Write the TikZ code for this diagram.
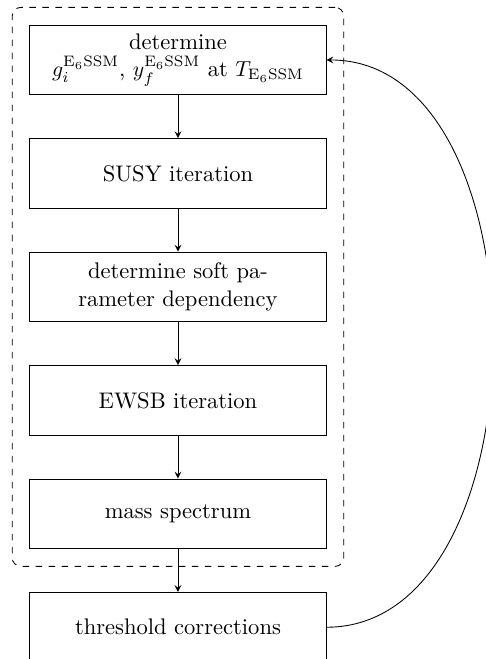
\documentclass[tikz,border=0pt]{standalone}
\usepackage{tikz}
\usepackage{amsmath}
\usetikzlibrary{calc,positioning,arrows,fit}
\tikzset{
	->,
	>=stealth,
	node distance=0.695cm,
	stepbox/.style={draw, rectangle, align=center,
		font=\fontsize{10.4}{12.5}\selectfont,
		minimum width=4.8cm, minimum height=1.13cm},
}

\begin{document}
\begin{tikzpicture}
        \useasboundingbox (-2.885,0.972) rectangle (4.99,-9.71);
        \node[stepbox] (determine) {determine\\
                $g_i^{\mathrm{E_6SSM}}$, $y_f^{\mathrm{E_6SSM}}$ at $T_{\mathrm{E_6SSM}}$};
        \node[stepbox, below=of determine] (susy) {SUSY iteration};
        \node[stepbox, below=of susy] (soft) {determine soft pa-\\rameter dependency};
        \node[stepbox, below=of soft] (ewsb) {EWSB iteration};
        \node[stepbox, below=of ewsb] (spectrum) {mass spectrum};
        \node[stepbox, below=of spectrum] (threshold) {threshold corrections};
        % iteration loop
        \node[draw, dashed, rounded corners, inner sep=0.28cm,
              fit=(determine) (spectrum)] (loop) {};
        \draw (determine) -- (susy);
        \draw (susy) -- (soft);
        \draw (soft) -- (ewsb);
        \draw (ewsb) -- (spectrum);
        \draw (spectrum) -- (threshold);
        \draw (threshold.east) to[out=0, in=0] (determine.east);
    \end{tikzpicture}
\end{document}
